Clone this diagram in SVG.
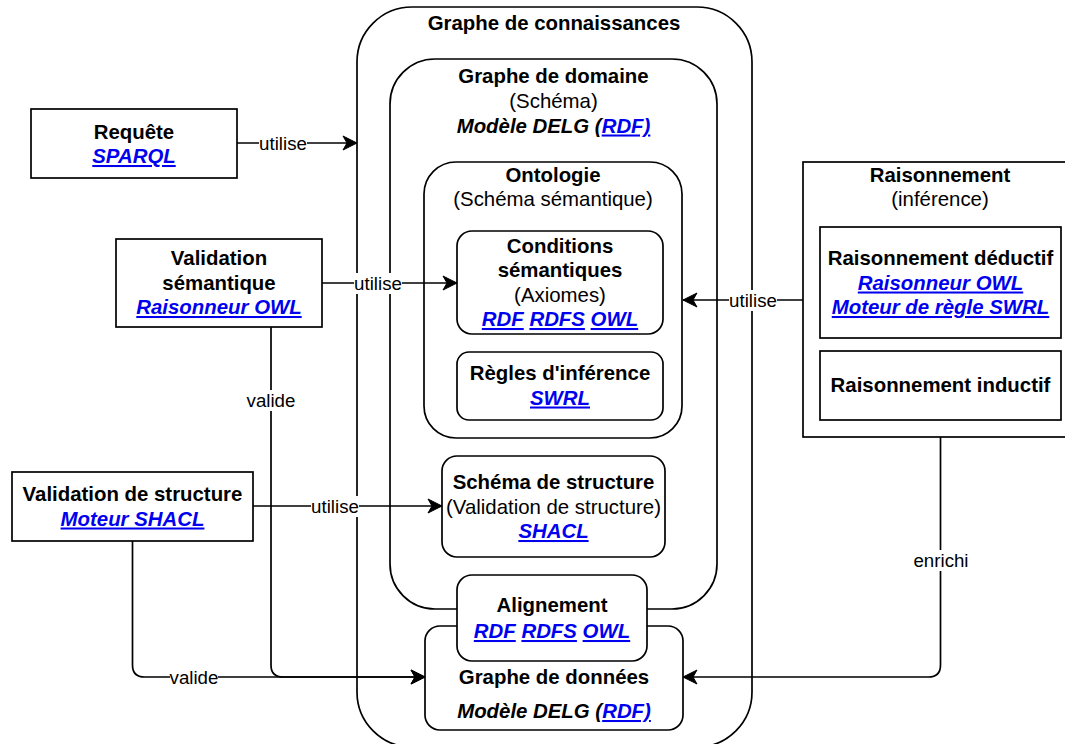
<svg xmlns="http://www.w3.org/2000/svg" width="1065" height="744" viewBox="0 0 1065 744">
  <defs>
    <style>
      .t { font-family: "Liberation Sans", Arial, Helvetica, sans-serif; font-size: 20.4px; fill: #000; text-anchor: middle; }
      .b { font-weight: bold; }
      .bi { font-weight: bold; font-style: italic; }
      .lk { fill: #0000EE; font-weight: bold; font-style: italic; text-decoration: underline; }
      .lbl { font-family: "Liberation Sans", Arial, Helvetica, sans-serif; font-size: 18.7px; fill: #000; text-anchor: middle; }
      .box { fill: #fff; stroke: #000; stroke-width: 1.7; }
      .edge { fill: none; stroke: #000; stroke-width: 1.7; }
      .lblbg { fill: #fff; stroke: none; }
    </style>
    <marker id="arrow" viewBox="0 0 16 16" refX="15" refY="8" markerWidth="16" markerHeight="16" markerUnits="userSpaceOnUse" orient="auto">
      <path d="M15,8 L1,1 L5,8 L1,15 Z" fill="#000" stroke="#000" stroke-width="1"/>
    </marker>
  </defs>
  <rect width="1065" height="744" fill="#fff"/>

  <!-- Knowledge graph container -->
  <g id="graphe-connaissances">
    <rect class="box" x="357" y="7" width="395" height="740" rx="55" ry="55"/>
    <text class="t b" x="554" y="30">Graphe de connaissances</text>
  </g>

  <!-- Domain graph -->
  <g id="graphe-domaine">
    <rect class="box" x="390" y="59" width="327" height="550" rx="45" ry="45"/>
    <text class="t b" x="553.5" y="83">Graphe de domaine</text>
    <text class="t" x="553.5" y="108">(Schéma)</text>
    <text class="t bi" x="553.5" y="132.5">Modèle DELG (<tspan class="lk">RDF)</tspan></text>
  </g>

  <!-- Ontology -->
  <g id="ontologie">
    <rect class="box" x="424" y="162" width="258" height="276" rx="32" ry="32"/>
    <text class="t b" x="553" y="181.5">Ontologie</text>
    <text class="t" x="553" y="206">(Schéma sémantique)</text>
  </g>

  <g id="conditions-semantiques">
    <rect class="box" x="457" y="231" width="206" height="103" rx="15" ry="15"/>
    <text class="t b" x="560" y="252.5">Conditions</text>
    <text class="t b" x="560" y="277">sémantiques</text>
    <text class="t" x="560" y="301.5">(Axiomes)</text>
    <text class="t" x="560" y="326"><tspan class="lk">RDF</tspan><tspan class="bi"> </tspan><tspan class="lk">RDFS</tspan><tspan class="bi"> </tspan><tspan class="lk">OWL</tspan></text>
  </g>

  <g id="regles-inference">
    <rect class="box" x="457" y="352" width="206" height="68" rx="12" ry="12"/>
    <text class="t b" x="560" y="380">Règles d'inférence</text>
    <text class="t" x="560" y="404.5"><tspan class="lk">SWRL</tspan></text>
  </g>

  <!-- Structure schema -->
  <g id="schema-structure">
    <rect class="box" x="442" y="456" width="223" height="101" rx="15" ry="15"/>
    <text class="t b" x="553.5" y="489">Schéma de structure</text>
    <text class="t" x="553.5" y="513.5">(Validation de structure)</text>
    <text class="t" x="553.5" y="538"><tspan class="lk">SHACL</tspan></text>
  </g>

  <!-- Data graph -->
  <g id="graphe-donnees">
    <rect class="box" x="425" y="626" width="258" height="104" rx="15" ry="15"/>
    <text class="t b" x="554" y="684">Graphe de données</text>
    <text class="t bi" x="554" y="718">Modèle DELG (<tspan class="lk">RDF)</tspan></text>
  </g>

  <!-- Alignment sits across domain and data graphs -->
  <g id="alignement">
    <rect class="box" x="457" y="575" width="190" height="86" rx="15" ry="15"/>
    <text class="t b" x="552" y="611.5">Alignement</text>
    <text class="t" x="552" y="638"><tspan class="lk">RDF</tspan><tspan class="bi"> </tspan><tspan class="lk">RDFS</tspan><tspan class="bi"> </tspan><tspan class="lk">OWL</tspan></text>
  </g>

  <!-- Left-hand tools -->
  <g id="requete">
    <rect class="box" x="31" y="109" width="206" height="69"/>
    <text class="t b" x="134" y="138.5">Requête</text>
    <text class="t" x="134" y="163"><tspan class="lk">SPARQL</tspan></text>
  </g>

  <g id="validation-semantique">
    <rect class="box" x="116" y="239" width="206" height="88"/>
    <text class="t b" x="219" y="265">Validation</text>
    <text class="t b" x="219" y="289.5">sémantique</text>
    <text class="t" x="219" y="314"><tspan class="lk">Raisonneur OWL</tspan></text>
  </g>

  <g id="validation-structure">
    <rect class="box" x="12" y="472" width="241" height="69"/>
    <text class="t b" x="132.5" y="501">Validation de structure</text>
    <text class="t" x="132.5" y="525.5"><tspan class="lk">Moteur SHACL</tspan></text>
  </g>

  <!-- Reasoning -->
  <g id="raisonnement">
    <rect class="box" x="803" y="162" width="274" height="275"/>
    <text class="t b" x="940" y="181.5">Raisonnement</text>
    <text class="t" x="940" y="206">(inférence)</text>
  </g>

  <g id="raisonnement-deductif">
    <rect class="box" x="820" y="227" width="241" height="111"/>
    <text class="t b" x="940.5" y="265">Raisonnement déductif</text>
    <text class="t" x="940.5" y="289.5"><tspan class="lk">Raisonneur OWL</tspan></text>
    <text class="t" x="940.5" y="314"><tspan class="lk">Moteur de règle SWRL</tspan></text>
  </g>

  <g id="raisonnement-inductif">
    <rect class="box" x="820" y="351" width="241" height="69"/>
    <text class="t b" x="940.5" y="392">Raisonnement inductif</text>
  </g>

  <!-- Connectors -->
  <g id="connectors">
    <path class="edge" d="M237,143 L357,143" marker-end="url(#arrow)"/>
    <path class="edge" d="M322,283 L457,283" marker-end="url(#arrow)"/>
    <path class="edge" d="M803,300 L683,300" marker-end="url(#arrow)"/>
    <path class="edge" d="M253,506 L442,506" marker-end="url(#arrow)"/>
    <path class="edge" d="M271,327 L271,665 Q271,677 283,677 L425,677" marker-end="url(#arrow)"/>
    <path class="edge" d="M132.5,541 L132.5,665 Q132.5,677 144.5,677 L425,677" marker-end="url(#arrow)"/>
    <path class="edge" d="M940.5,437 L940.5,665 Q940.5,677 928.5,677 L683,677" marker-end="url(#arrow)"/>

    <rect class="lblbg" x="259" y="133" width="48" height="21"/>
    <text class="lbl" x="283" y="149.5">utilise</text>
    <rect class="lblbg" x="354" y="273" width="48" height="21"/>
    <text class="lbl" x="378" y="289.5">utilise</text>
    <rect class="lblbg" x="729" y="290" width="48" height="21"/>
    <text class="lbl" x="753" y="306.5">utilise</text>
    <rect class="lblbg" x="311" y="496" width="48" height="21"/>
    <text class="lbl" x="335" y="512.5">utilise</text>
    <rect class="lblbg" x="247" y="390" width="48" height="21"/>
    <text class="lbl" x="271" y="406.5">valide</text>
    <rect class="lblbg" x="170" y="667" width="48" height="21"/>
    <text class="lbl" x="194" y="683.5">valide</text>
    <rect class="lblbg" x="913" y="550" width="56" height="21"/>
    <text class="lbl" x="941" y="566.5">enrichi</text>
  </g>
</svg>
